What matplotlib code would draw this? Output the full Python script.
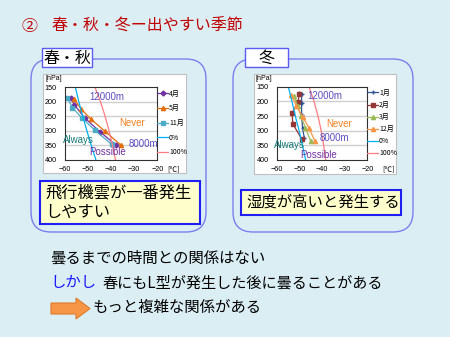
import matplotlib
matplotlib.use('Agg')
import matplotlib.pyplot as plt
from matplotlib.patches import FancyBboxPatch, Rectangle, FancyArrow

# ---- data ----
levels = [150, 200, 250, 300, 350, 400]

# spring / autumn chart
apr_t = [-57.4, -56.0, -51.5, -45.0, -38.0]
apr_p = [188, 210, 255, 302, 348]
may_t = [-56.0, -53.0, -48.7, -42.7, -35.9]
may_p = [191, 225, 260, 301, 348]
nov_t = [-59.0, -56.8, -52.8, -47.0, -39.8]
nov_p = [186, 220, 254, 298, 346]
rh0_left = [-55.5, -54.0, -52.3, -50.5, -48.6, -46.6]
rh100_left = [-47.0, -44.6, -42.6, -40.9, -39.4, -38.1]

# winter chart
jan_t = [-50.5, -49.2, -49.2, -49.2, -48.8, -48.0]
jan_p = [172, 175, 205, 245, 290, 325]
feb_t = [-50.3, -50.7, -53.5, -53.0, -49.2]
feb_p = [175, 202, 240, 278, 328]
mar_t = [-52.5, -51.0, -49.5, -47.5, -45.2]
mar_p = [182, 215, 250, 290, 335]
dec_t = [-53.8, -51.5, -48.5, -46.0, -43.3]
dec_p = [180, 215, 255, 290, 335]
rh0_right = [-55.1, -53.5, -52.0, -50.3, -48.8, -47.4]
rh100_right = [-45.9, -43.7, -41.9, -40.5, -39.4, -38.5]

xticks = [-60, -50, -40, -30, -20]

CJK = ['Noto Sans CJK JP', 'DejaVu Sans']
plt.rcParams['font.family'] = CJK
BG = '#dbeef4'
W, H = 450, 337

fig = plt.figure(figsize=(4.5, 3.37), dpi=100, facecolor=BG)
ov = fig.add_axes([0, 0, 1, 1])
ov.set_xlim(0, W)
ov.set_ylim(H, 0)
ov.axis('off')

# title
ov.text(22, 26, '②', color='#c00000', fontsize=11.5, va='center')
ov.text(51, 26, '春・秋・冬ー出やすい季節', color='#c00000', fontsize=11.5, va='center')

# panels
for x0, x1 in [(31, 206), (233, 413)]:
    ov.add_patch(FancyBboxPatch((x0, 59), x1 - x0, 173, boxstyle='round,pad=0,rounding_size=20',
                                fc='none', ec='#7a7ff0', lw=1.0))
for (x0, x1), lab in [((42, 92), '春・秋'), ((245, 288), '冬')]:
    ov.add_patch(Rectangle((x0, 48), x1 - x0, 19, fc='white', ec='#5a5af5', lw=1.0))
    ov.text((x0 + x1) / 2, 58, lab, fontsize=11.5, ha='center', va='center')

# chart backgrounds
ov.add_patch(Rectangle((43, 74), 143, 99, fc='white', ec='#c0c0c0', lw=0.8))
ov.add_patch(Rectangle((254, 74), 142, 100, fc='white', ec='#c0c0c0', lw=0.8))

# yellow boxes
ov.add_patch(Rectangle((40, 181), 160, 43, fc='#ffffcc', ec='#1f1ff5', lw=1.5))
ov.text(45, 193, '飛行機雲が一番発生', fontsize=11.7, va='center')
ov.text(45, 213, 'しやすい', fontsize=11.7, va='center')
ov.add_patch(Rectangle((241, 190), 160, 25, fc='#ffffcc', ec='#1f1ff5', lw=1.5))
ov.text(246, 202.5, '湿度が高いと発生する', fontsize=11.1, va='center')

# bottom text
ov.text(50, 258, '曇るまでの時間との関係はない', fontsize=11.1, va='center')
ov.text(50, 283, 'しかし', fontsize=11.1, va='center', color='#1a1aff')
ov.text(102, 283, '春にもL型が発生した後に曇ることがある', fontsize=10.9, va='center')
ov.add_patch(FancyArrow(51, 308.5, 39, 0, width=11, head_width=21, head_length=14,
                        length_includes_head=True, fc='#f79646', ec='#e07b2a', lw=0.8))
ov.text(93, 307, 'もっと複雑な関係がある', fontsize=11.1, va='center')


def fig_rect(x0, y0, x1, y1):
    return [x0 / W, 1 - y1 / H, (x1 - x0) / W, (y1 - y0) / H]


def setup(ax):
    ax.set_xlim(-60, -20)
    ax.set_ylim(400, 150)
    ax.set_xticks(xticks)
    ax.set_yticks(levels)
    ax.set_facecolor('white')
    for y in levels[1:-1]:
        ax.axhline(y, color='#d0d0d0', lw=1.0, zorder=0)
    ax.tick_params(length=0, labelsize=5.2)
    ax.tick_params(axis='y', pad=6)
    ax.tick_params(axis='x', pad=4)
    for lab in ax.get_xticklabels() + ax.get_yticklabels():
        lab.set_family('Liberation Sans')
    for s in ax.spines.values():
        s.set_color('#303030')
        s.set_linewidth(0.8)


ANN = dict(fontsize=7, family='Liberation Sans', va='center', clip_on=False)

# left chart
axl = fig.add_axes(fig_rect(65, 87.3, 157.3, 160))
setup(axl)
axl.plot(apr_t, apr_p, '-D', color='#7030a0', ms=2.5, lw=0.9, label='4月')
axl.plot(may_t, may_p, '-^', color='#e46c0a', ms=3, lw=0.9, label='5月')
axl.plot(nov_t, nov_p, '-s', color='#4bacc6', ms=2.5, lw=0.9, label='11月')
axl.plot(rh0_left, levels, '-', color='#00b0f0', lw=0.9, label='0%')
axl.plot(rh100_left, levels, '-', color='#ff7c80', lw=0.9, label='100%')
axl.text(-49.5, 184, '12000m', color='#5b4fc0', **ANN)
axl.text(-36.5, 274, 'Never', color='#f08020', **ANN)
axl.text(-60.7, 331, 'Always', color='#167a78', **ANN)
axl.text(-32.3, 346, '8000m', color='#5b4fc0', **ANN)
axl.text(-49.5, 374, 'Possible', color='#7030a0', **ANN)
axl.legend(loc='upper left', bbox_to_anchor=(1.0, 0.97), frameon=False,
           handlelength=1.6, handletextpad=0.1, labelspacing=0.97, borderaxespad=0,
           borderpad=0, prop={'family': CJK, 'size': 5})
ov.text(45, 79, '[hPa]', fontsize=5, family='Liberation Sans', va='center')
ov.text(167, 169, '[℃]', fontsize=5.5, va='center')

# right chart
axr = fig.add_axes(fig_rect(277.3, 86.7, 367.3, 160))
setup(axr)
axr.plot(jan_t, jan_p, '-+', color='#2f5597', ms=3, lw=0.9, label='1月')
axr.plot(feb_t, feb_p, '-s', color='#953735', ms=2.5, lw=0.9, label='2月')
axr.plot(mar_t, mar_p, '-^', color='#9bbb59', ms=3, lw=0.9, label='3月')
axr.plot(dec_t, dec_p, '-^', color='#f79646', ms=3, lw=0.9, label='12月')
axr.plot(rh0_right, levels, '-', color='#00b0f0', lw=0.9, label='0%')
axr.plot(rh100_right, levels, '-', color='#ff7c80', lw=0.9, label='100%')
axr.text(-46.5, 181, '12000m', color='#5b4fc0', **ANN)
axr.text(-38.1, 277, 'Never', color='#f08020', **ANN)
axr.text(-41.0, 326, '8000m', color='#5b4fc0', **ANN)
axr.text(-61.3, 349, 'Always', color='#167a78', **ANN)
axr.text(-49.9, 383, 'Possible', color='#7030a0', **ANN)
axr.legend(loc='upper left', bbox_to_anchor=(1.0, 0.97), frameon=False,
           handlelength=1.6, handletextpad=0.1, labelspacing=0.585, borderaxespad=0,
           borderpad=0, prop={'family': CJK, 'size': 5})
ov.text(256, 79, '[hPa]', fontsize=5, family='Liberation Sans', va='center')
ov.text(382, 169, '[℃]', fontsize=5.5, va='center')

fig.savefig('out.png', dpi=100, facecolor=BG)
